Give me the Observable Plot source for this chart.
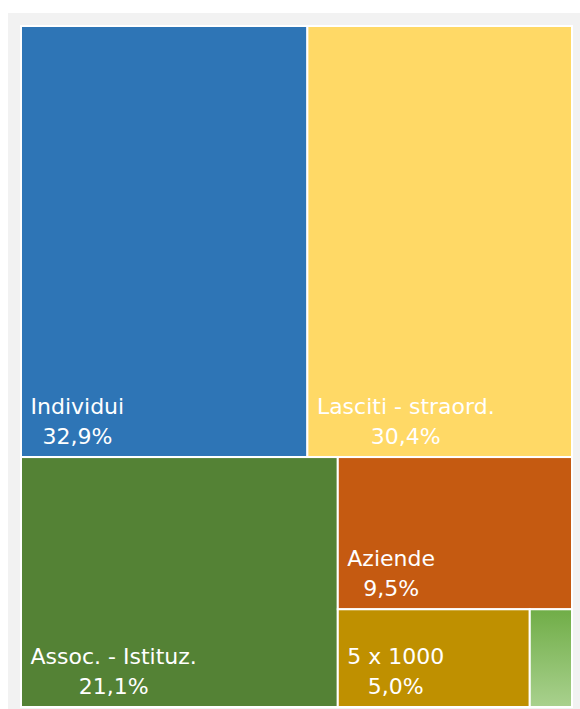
<!DOCTYPE html>
<html><head><meta charset="utf-8">
<script src="https://cdn.jsdelivr.net/npm/d3@7"></script>
<script src="https://cdn.jsdelivr.net/npm/@observablehq/plot@0.6"></script>
<style>
html,body{margin:0;padding:0;background:#fff;}
#wrap{position:absolute;left:8px;top:13px;width:572px;height:696px;background:#f2f2f2;}
#wrap svg{display:block;}
</style></head><body><div id="wrap"></div>
<script>
const categories = ["Individui", "Lasciti - straord.", "Assoc. - Istituz.", "Aziende", "5 x 1000", "Altro"];
const values = [32.9, 30.4, 21.1, 9.5, 5.0, 1.1];
const percentLabels = ["32,9%", "30,4%", "21,1%", "9,5%", "5,0%", ""];
const colors = ["#2e75b6", "#ffd966", "#548235", "#c55a11", "#bf9000", "url(#altroGrad)"];
// nesting of the blocks (indices into categories)
const blocks = [[0, 1], [2, [3, [4, 5]]]];

const W = 551, H = 681;
function build(n) {
  return typeof n === "number" ? {i: n, value: values[n]} : {children: n.map(build)};
}
const root = d3.hierarchy(build(blocks)).sum(d => d.value || 0);
d3.treemap()
  .size([W, H])
  .tile((node, x0, y0, x1, y1) => (node.depth % 2 === 0 ? d3.treemapSlice : d3.treemapDice)(node, x0, y0, x1, y1))(root);

const cells = root.leaves().map(l => ({
  name: categories[l.data.i],
  pct: percentLabels[l.data.i],
  color: colors[l.data.i],
  x0: l.x0, x1: l.x1, y0: l.y0, y1: l.y1
}));

const FONT = "DejaVu Sans", FS = 22;
const ctx = document.createElement("canvas").getContext("2d");
ctx.font = `${FS}px "${FONT}"`;
const measure = s => ctx.measureText(s).width;

const gradient = () => {
  const ns = "http://www.w3.org/2000/svg";
  const defs = document.createElementNS(ns, "defs");
  const lg = document.createElementNS(ns, "linearGradient");
  lg.setAttribute("id", "altroGrad");
  lg.setAttribute("x1", "0"); lg.setAttribute("y1", "0");
  lg.setAttribute("x2", "0"); lg.setAttribute("y2", "1");
  [["0%", "#70ad47"], ["100%", "#a9d18e"]].forEach(([o, c]) => {
    const s = document.createElementNS(ns, "stop");
    s.setAttribute("offset", o); s.setAttribute("stop-color", c);
    lg.appendChild(s);
  });
  defs.appendChild(lg);
  return defs;
};

const chart = Plot.plot({
  width: 572,
  height: 696,
  x: {domain: [0, W], range: [13, 564], axis: null},
  y: {domain: [0, H], range: [13, 694], axis: null},
  color: {type: "identity"},
  style: {background: "#f2f2f2"},
  marks: [
    gradient,
    Plot.rect(cells, {x1: "x0", x2: "x1", y1: "y0", y2: "y1", fill: "color", stroke: "white", strokeWidth: 2}),
    Plot.text(cells.filter(d => d.pct), {
      x: d => d.x0 + 9 + measure(d.name) / 2,
      y: "y1",
      text: d => d.name + "\n" + d.pct,
      textAnchor: "middle",
      lineAnchor: "bottom",
      lineHeight: 1.36,
      dy: -14,
      fill: "white",
      fontSize: FS,
      fontFamily: FONT
    })
  ]
});
document.getElementById("wrap").appendChild(chart);
</script>
</body></html>
